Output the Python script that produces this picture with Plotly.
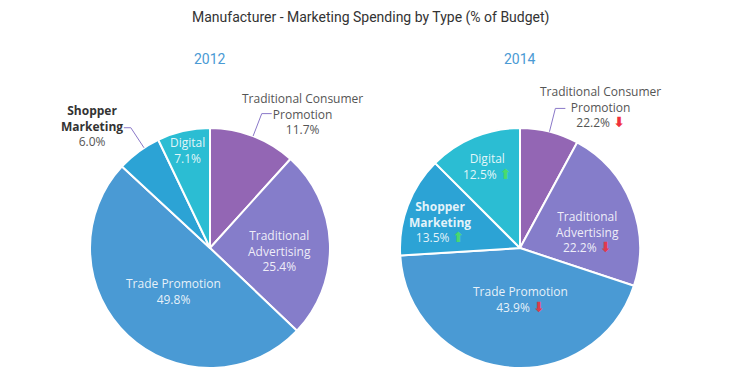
import math
import plotly.graph_objects as go

# ---------------- data ----------------
categories = ["Traditional Consumer Promotion", "Traditional Advertising",
              "Trade Promotion", "Shopper Marketing", "Digital"]
years = ["2012", "2014"]
share_2012 = [11.7, 25.4, 49.8, 6.0, 7.1]
share_2014 = [7.9, 22.2, 43.9, 13.5, 12.5]          # slice sizes as drawn
label_pct_2012 = ["11.7%", "25.4%", "49.8%", "6.0%", "7.1%"]
label_pct_2014 = ["22.2%", "22.2%", "43.9%", "13.5%", "12.5%"]  # as printed
trend_2014 = ["down", "down", "down", "up", "up"]
title_text = "Manufacturer - Marketing Spending by Type (% of Budget)"

# ---------------- style ----------------
PAGE_W, PAGE_H = 730, 390
OFF = 8                      # default body margin of the html page
W, H = PAGE_W - OFF, PAGE_H - OFF
colors = ["#9366b4", "#857dca", "#4a9ad4", "#2ca3d5", "#2bbdd3"]
CX = [210, 520]
CY = 248
R = 120
FONT = "Open Sans"
GRAY = "#555555"
DARK = "#333333"
INSIDE = "rgba(255,255,255,0.88)"
LEADER = "#8a78c8"
UP = "<span style='color:#4fe060;font-family:DejaVu Sans;font-size:14px;font-weight:bold'>⬆</span>"
DOWN = "<span style='color:#f0313c;font-family:DejaVu Sans;font-size:14px;font-weight:bold'>⬇</span>"

line_names = {
    "Traditional Consumer Promotion": "Traditional Consumer<br>Promotion",
    "Traditional Advertising": "Traditional<br>Advertising",
    "Trade Promotion": "Trade Promotion",
    "Shopper Marketing": "Shopper<br>Marketing",
    "Digital": "Digital",
}

# label placement per pie:
#   ("in", radial factor, angle tweak)
#   ("out", (text dx, dy) from leader end, leader angle tweak)
place = [
    {  # 2012
        0: ("out", (31, 0), 0),
        1: ("in", 0.58, 5),
        2: ("in", 0.47, -3),
        3: ("out", (-32, -1.5), 3),
        4: ("in", 0.83, 0),
    },
    {  # 2014
        0: ("out", (35, -1), 0),
        1: ("in", 0.575, 8),
        2: ("in", 0.43, -7.4),
        3: ("in", 0.70, -3),
        4: ("in", 0.73, 0.5),
    },
]


def px(x):
    return (x - OFF) / W


def py(y):
    return 1 - (y - OFF) / H


def polar(cx, cy, r, ang):
    a = math.radians(ang)
    return cx + r * math.sin(a), cy - r * math.cos(a)


fig = go.Figure()
annotations = []
shapes = []

all_shares = [share_2012, share_2014]
all_pcts = [label_pct_2012, label_pct_2014]
all_trends = [[None] * 5, trend_2014]

for k in range(2):
    cx = CX[k]
    fig.add_trace(go.Pie(
        labels=categories, values=all_shares[k],
        marker=dict(colors=colors, line=dict(color="white", width=2)),
        sort=False, direction="clockwise", rotation=0,
        textinfo="none", hoverinfo="label+percent", showlegend=False,
        domain=dict(x=[px(cx - R), px(cx + R)], y=[py(CY + R), py(CY - R)]),
    ))
    # year heading
    annotations.append(dict(
        x=px(cx), y=py(59), xref="paper", yref="paper", text=years[k],
        showarrow=False, font=dict(family="Roboto", size=14, color="#4a9ad4"),
        xanchor="center", yanchor="middle"))

    total = sum(all_shares[k])
    cum = 0
    for i, cat in enumerate(categories):
        v = all_shares[k][i]
        mid = (cum + v / 2) / total * 360
        cum += v
        pct = all_pcts[k][i]
        tr = all_trends[k][i]
        arrow = "" if tr is None else (" " + (UP if tr == "up" else DOWN))
        name = line_names[cat]
        spec = place[k][i]
        if spec[0] == "in":
            if cat == "Shopper Marketing":
                name = "<b>" + name + "</b>"
            text = name + "<br>" + pct + arrow
            x, y = polar(cx, CY, spec[1] * R, mid + spec[2])
            color = INSIDE
        else:
            if cat == "Shopper Marketing":
                name = "<span style='color:%s'><b>%s</b></span>" % (DARK, name)
            text = name + "<br>" + pct + arrow
            ang = mid + spec[2]
            x0, y0 = polar(cx, CY, R, ang)
            x1, y1 = polar(cx, CY, R * 1.2, ang)
            dx = 10 if ang < 180 else -7
            x2 = x1 + dx
            shapes.append(dict(
                type="path", xref="paper", yref="paper",
                path="M %f %f L %f %f L %f %f" % (px(x0), py(y0), px(x1), py(y1), px(x2), py(y1)),
                line=dict(color=LEADER, width=1)))
            x = x2 + spec[1][0]
            y = y1 + spec[1][1]
            color = GRAY
        annotations.append(dict(
            x=px(x), y=py(y), xref="paper", yref="paper", text=text,
            showarrow=False, align="center", xanchor="center", yanchor="middle",
            font=dict(family=FONT, size=12, color=color)))

annotations.append(dict(
    x=px(370), y=py(18), xref="paper", yref="paper", text=title_text,
    showarrow=False, font=dict(family="Roboto", size=14, color=DARK),
    xanchor="center", yanchor="middle"))

fig.update_layout(
    width=W, height=H,
    margin=dict(l=0, r=0, t=0, b=0),
    paper_bgcolor="white", plot_bgcolor="white",
    annotations=annotations, shapes=shapes,
)

fig.write_html("out.html")
